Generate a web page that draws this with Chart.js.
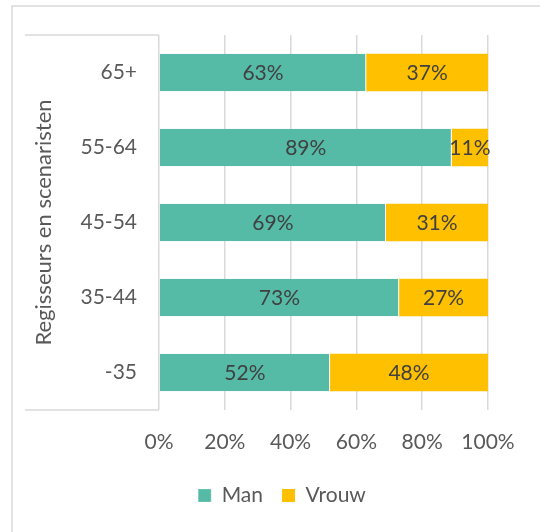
<!DOCTYPE html>
<html>
<head>
<meta charset="utf-8">
<script src="https://cdn.jsdelivr.net/npm/chart.js@4/dist/chart.umd.min.js"></script>
<style>
  html, body { margin: 0; padding: 0; background: #fff; }
  #wrap { width: 540px; height: 532px; }
</style>
</head>
<body>
<div id="wrap"><canvas id="genderChart"></canvas></div>
<script>
const ageGroups = ["65+", "55-64", "45-54", "35-44", "-35"];
const manShare = [63, 89, 69, 73, 52];
const vrouwShare = [37, 11, 31, 27, 48];
const xTicks = [0, 20, 40, 60, 80, 100];

const FONT = "Lato, 'Open Sans', sans-serif";

// light grey frame lines like the original office chart
const framePlugin = {
  id: "frame",
  beforeDraw(chart) {
    const ctx = chart.ctx;
    const left = chart.chartArea.left;
    const top = chart.chartArea.top;
    const bottom = chart.chartArea.bottom;
    ctx.save();
    ctx.strokeStyle = "#d9d9d9";
    ctx.lineWidth = 1.5;
    ctx.beginPath();
    ctx.moveTo(12, 532);
    ctx.lineTo(12, 6);
    ctx.lineTo(540, 6);
    ctx.moveTo(25, top);
    ctx.lineTo(left, top);
    ctx.moveTo(25, bottom);
    ctx.lineTo(left, bottom);
    ctx.stroke();
    ctx.restore();
  },
};

// percentage text in the middle of every segment
const labelPlugin = {
  id: "segmentLabels",
  afterDatasetsDraw(chart) {
    const ctx = chart.ctx;
    ctx.save();
    ctx.font = "21px " + FONT;
    ctx.fillStyle = "#404040";
    ctx.textAlign = "center";
    ctx.textBaseline = "middle";
    chart.data.datasets.forEach((ds, i) => {
      chart.getDatasetMeta(i).data.forEach((bar, j) => {
        const x = (bar.x + bar.base) / 2;
        ctx.fillText(ds.data[j] + "%", x, bar.y + 1);
      });
    });
    ctx.restore();
  },
};

new Chart(document.getElementById("genderChart"), {
  type: "bar",
  data: {
    labels: ageGroups,
    datasets: [
      {
        label: "Man",
        data: manShare,
        backgroundColor: "#55bba7",
        borderColor: "#ffffff",
        borderWidth: { right: 1 },
        borderSkipped: false,
        categoryPercentage: 1,
        barPercentage: 0.5,
      },
      {
        label: "Vrouw",
        data: vrouwShare,
        backgroundColor: "#ffc000",
        borderWidth: 0,
        categoryPercentage: 1,
        barPercentage: 0.5,
      },
    ],
  },
  options: {
    indexAxis: "y",
    responsive: true,
    maintainAspectRatio: false,
    animation: false,
    layout: { padding: { top: 35, left: 24, right: 0, bottom: 16 } },
    scales: {
      x: {
        stacked: true,
        min: 0,
        max: 100,
        afterBuildTicks: (s) => {
          s.ticks = xTicks.map((v) => ({ value: v }));
        },
        afterFit: (s) => {
          s.height = 56;
        },
        grid: { color: "#d9d9d9", lineWidth: 1.5, drawTicks: false },
        border: { display: false },
        ticks: {
          padding: 20,
          color: "#595959",
          font: { family: FONT, size: 21 },
          callback: (v) => v + "%",
        },
      },
      y: {
        stacked: true,
        afterFit: (s) => {
          s.width = 135;
        },
        grid: { display: false },
        border: { display: false },
        ticks: {
          padding: 14,
          color: "#595959",
          font: { family: FONT, size: 21 },
        },
        title: {
          display: true,
          text: "Regisseurs en scenaristen",
          color: "#595959",
          font: { family: FONT, size: 22 },
          padding: { top: 7, bottom: 0 },
        },
      },
      yPad: {
        type: "linear",
        position: "right",
        afterFit: (s) => {
          s.width = 52;
        },
        grid: { display: false },
        border: { display: false },
        ticks: { display: false },
      },
    },
    plugins: {
      legend: {
        position: "bottom",
        labels: {
          boxWidth: 13,
          boxHeight: 13,
          padding: 19,
          color: "#595959",
          font: { family: FONT, size: 21 },
        },
      },
      tooltip: { enabled: false },
    },
  },
  plugins: [framePlugin, labelPlugin],
});
</script>
</body>
</html>
